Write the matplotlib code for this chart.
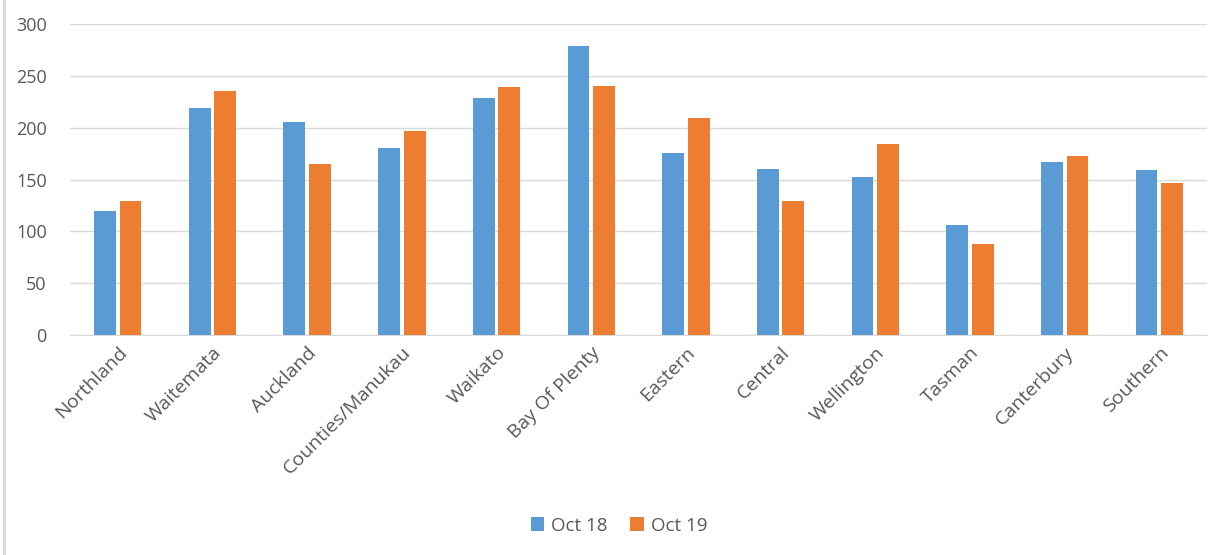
import numpy as np
import matplotlib.pyplot as plt
from matplotlib.lines import Line2D

# Dados
regioes = ["Northland", "Waitemata", "Auckland", "Counties/Manukau", "Waikato",
           "Bay Of Plenty", "Eastern", "Central", "Wellington", "Tasman",
           "Canterbury", "Southern"]
oct18 = [120, 219, 205, 180, 229, 279, 176, 160, 152, 106, 167, 159]
oct19 = [129, 235, 165, 197, 239, 240, 209, 129, 184, 88, 173, 147]
yticks = [0, 50, 100, 150, 200, 250, 300]

azul = '#5b9bd5'
laranja = '#ed7d31'
cinza_txt = '#595959'

plt.rcParams['font.family'] = ['Open Sans', 'DejaVu Sans']

fig = plt.figure(figsize=(12.14, 5.55), dpi=100)
ax = fig.add_axes([0.058, 0.396, 0.936, 0.561])

x = np.arange(len(regioes))
largura = 0.23
ax.bar(x - 0.135, oct18, largura, color=azul, label='Oct 18', zorder=3)
ax.bar(x + 0.135, oct19, largura, color=laranja, label='Oct 19', zorder=3)

ax.set_xlim(-0.5, len(regioes) - 0.5)
ax.set_ylim(0, 300)
ax.set_yticks(yticks)
ax.set_yticklabels([str(v) for v in yticks], fontsize=13, color=cinza_txt)
ax.set_xticks(x)
ax.set_xticklabels(regioes, rotation=45, ha='right', rotation_mode='anchor',
                   fontsize=14, color=cinza_txt)
ax.tick_params(axis='x', length=0, pad=6)
ax.tick_params(axis='y', length=0, pad=17)

ax.grid(axis='y', color='#d9d9d9', linewidth=1, zorder=0)
for lado in ['top', 'right', 'left']:
    ax.spines[lado].set_visible(False)
ax.spines['bottom'].set_color('#d9d9d9')

leg = fig.legend(loc='center', bbox_to_anchor=(0.51, 0.053), ncol=2, frameon=False,
                 fontsize=13.5, handlelength=0.7, handleheight=0.7, handletextpad=0.4,
                 columnspacing=1.2)
for t in leg.get_texts():
    t.set_color(cinza_txt)

# borda à esquerda da imagem
fig.add_artist(Line2D([0.003, 0.003], [0, 1], transform=fig.transFigure,
                      color='#d9d9d9', linewidth=2))

fig.savefig('out.png', dpi=100)
